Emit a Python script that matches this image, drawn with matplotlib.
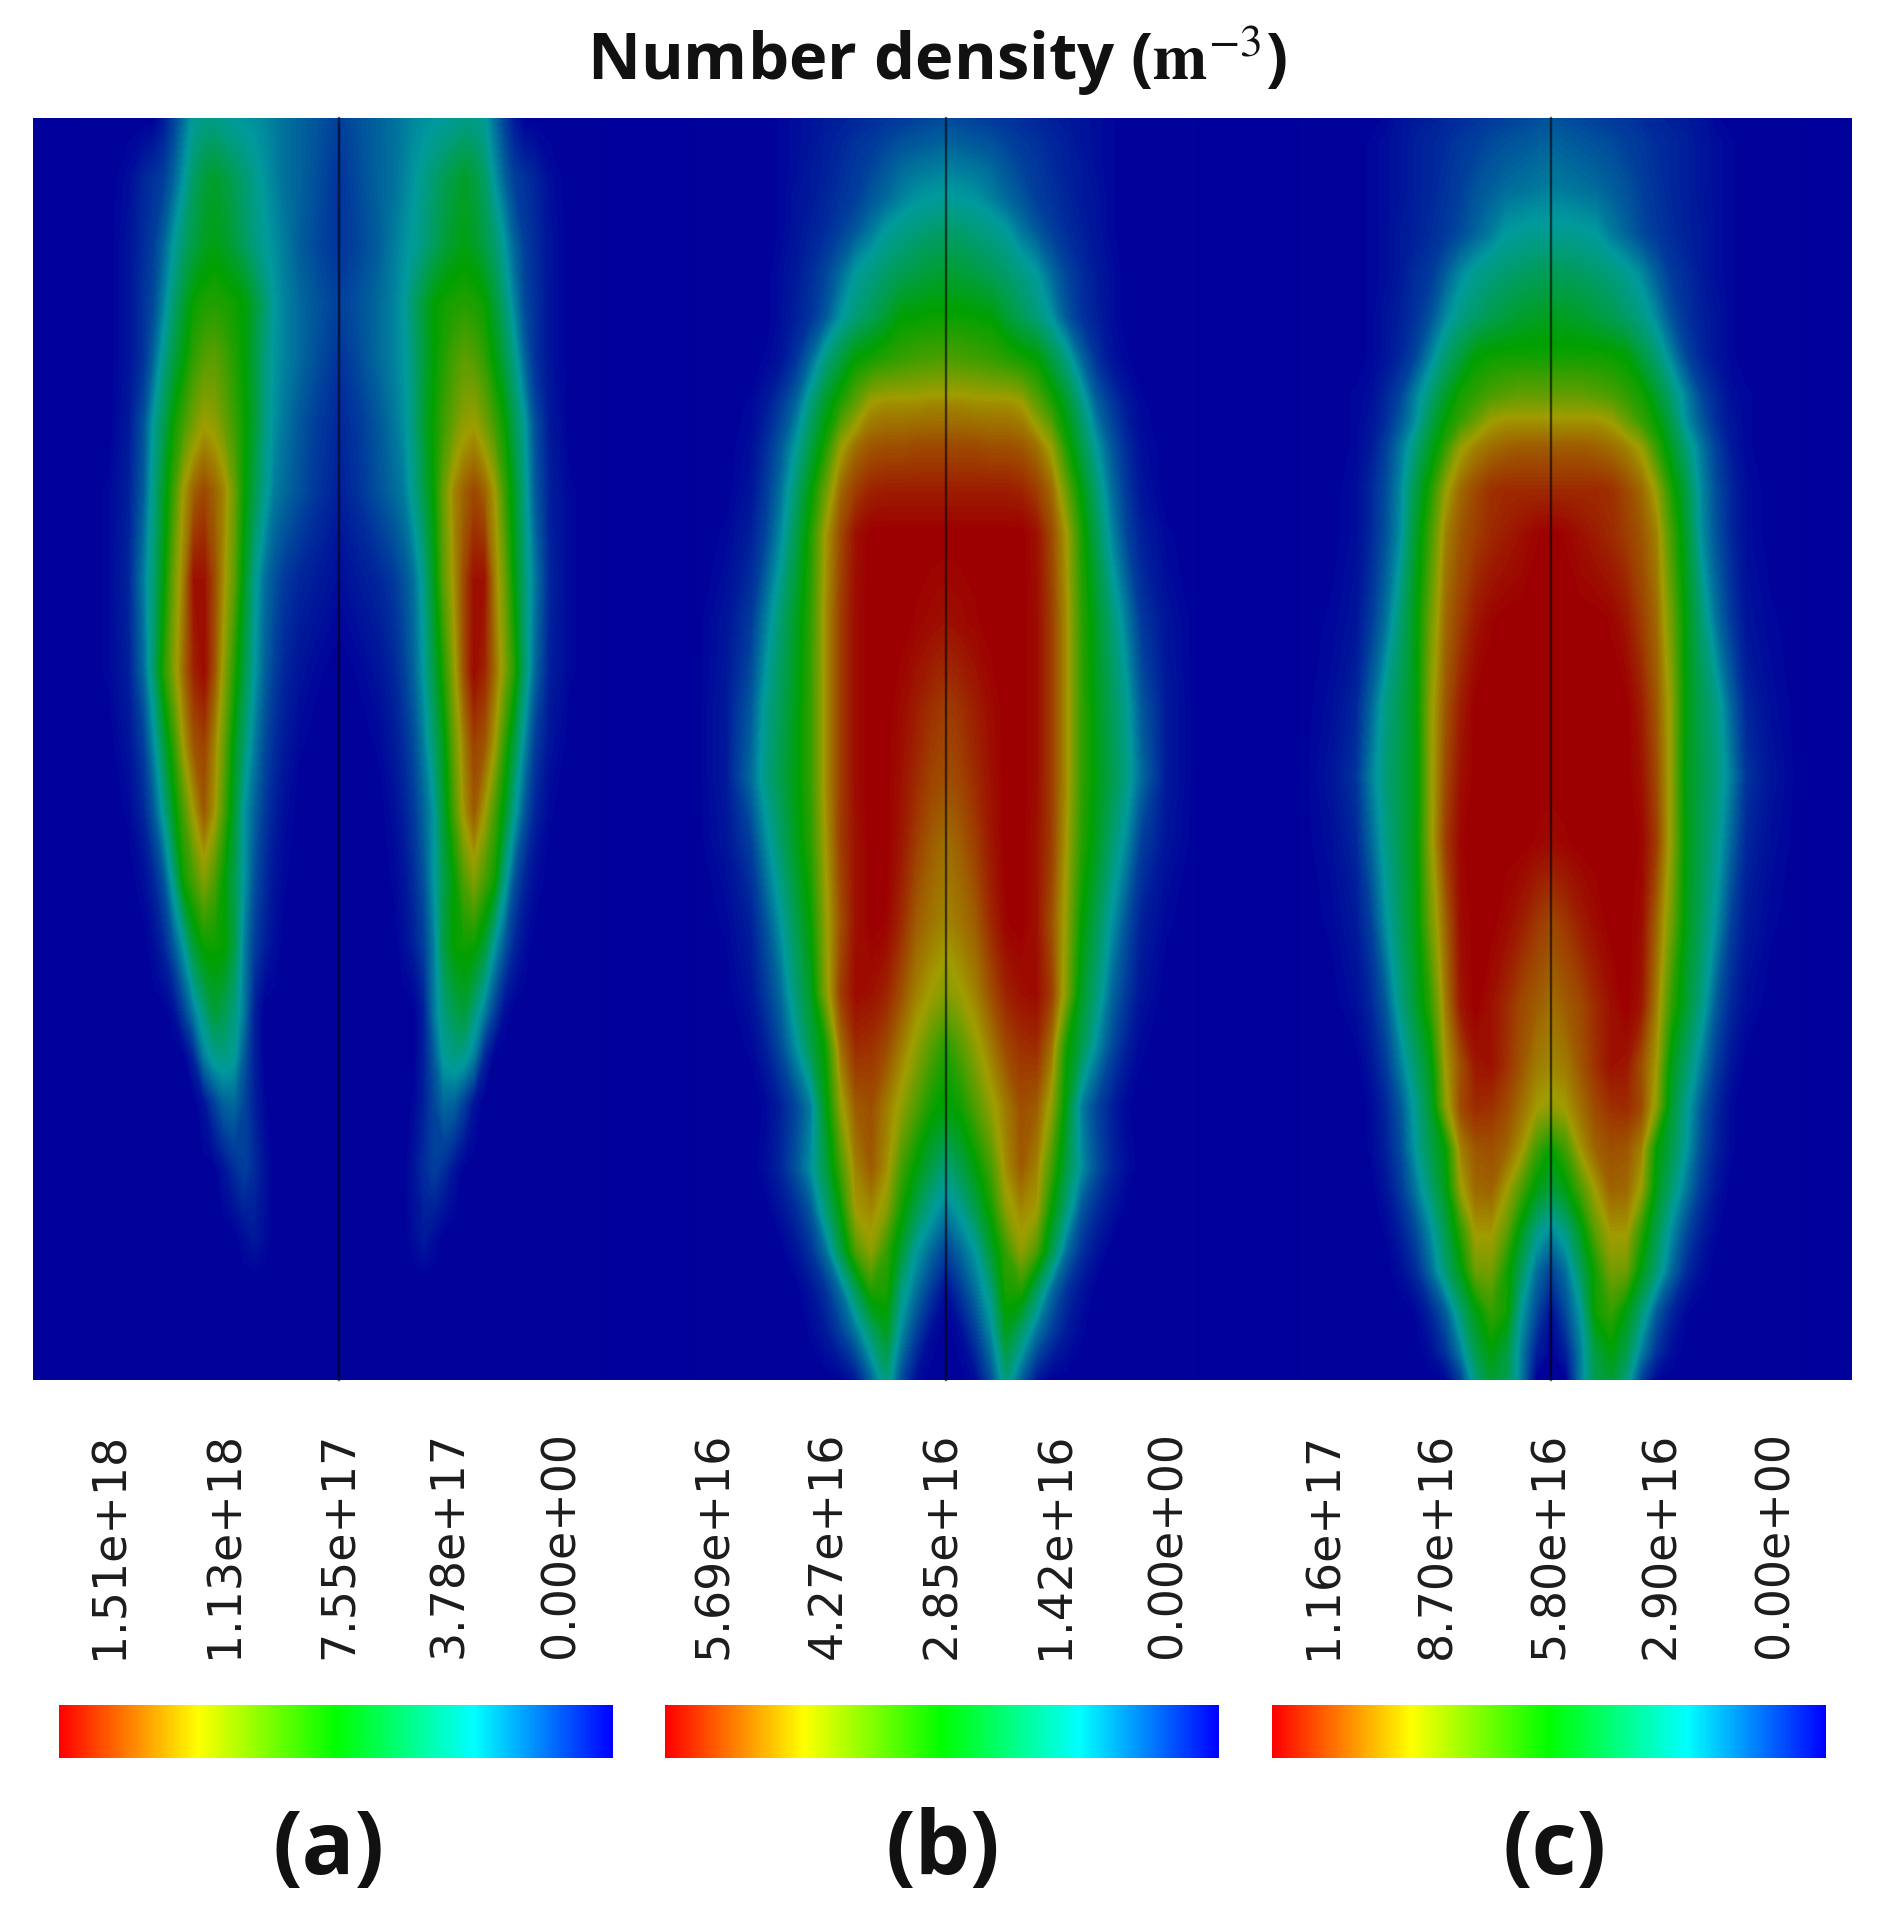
"""
number density maps of the three cases with their colour bars
values are read off the picture (half plume, mirrored about the centre line)
"""

import numpy as np
import matplotlib
matplotlib.use('Agg')
import matplotlib.pyplot as plt
from matplotlib.cm import ScalarMappable
from matplotlib.colors import LinearSegmentedColormap, Normalize

# offset from the centre line, one list per panel
offsets_a = [0, 20, 40, 55, 65, 75, 85, 95, 105, 115, 125, 135, 145, 155, 165, 175, 185, 195, 210, 230, 260]
offsets_bc = [0, 15, 30, 45, 60, 75, 90, 105, 120, 135, 150, 165, 180, 195, 220, 250]

heights_a = [118, 179, 245, 304, 357, 424, 491, 580, 670, 745, 812, 879, 945, 1012, 1057, 1102, 1169, 1236, 1280, 1380]
density_a = [
    [.10, .13, .16, .18, .20, .22, .23, .24, .25, .26, .28, .28, .26, .18, .10, .04, 0, 0, 0, 0, 0],
    [.08, .12, .16, .18, .21, .24, .28, .32, .36, .40, .43, .40, .34, .24, .16, .10, .08, .06, .02, 0, 0],
    [.08, .11, .15, .20, .23, .26, .30, .35, .40, .44, .47, .44, .39, .33, .25, .16, .10, .07, .03, 0, 0],
    [.10, .13, .17, .21, .25, .33, .41, .49, .52, .54, .55, .54, .51, .42, .32, .21, .12, .08, .03, 0, 0],
    [.08, .12, .17, .21, .24, .31, .40, .49, .55, .60, .64, .62, .57, .48, .39, .28, .16, .08, .03, 0, 0],
    [.06, .09, .14, .19, .23, .30, .42, .51, .59, .66, .72, .74, .68, .60, .51, .37, .26, .13, .04, 0, 0],
    [.05, .08, .13, .17, .20, .28, .38, .50, .66, .78, .84, .88, .84, .75, .59, .44, .29, .15, .05, .01, 0],
    [.02, .04, .06, .09, .13, .18, .28, .45, .64, .76, .88, .97, .97, .80, .67, .48, .32, .20, .06, .01, 0],
    [0, .01, .03, .06, .10, .16, .25, .39, .55, .71, .87, .98, .94, .83, .70, .55, .33, .17, .05, .01, 0],
    [0, 0, .01, .04, .07, .12, .20, .32, .46, .65, .79, .89, .86, .75, .57, .39, .22, .10, .03, 0, 0],
    [0, 0, 0, .02, .05, .09, .16, .24, .42, .60, .76, .85, .75, .61, .46, .27, .14, .06, .01, 0, 0],
    [0, 0, 0, .01, .03, .07, .13, .24, .38, .49, .62, .70, .61, .52, .29, .13, .06, .02, 0, 0, 0],
    [0, 0, 0, 0, .02, .05, .10, .20, .39, .50, .52, .51, .42, .25, .14, .06, .02, 0, 0, 0, 0],
    [0, 0, 0, 0, 0, 0, .05, .19, .30, .37, .41, .30, .20, .10, .02, 0, 0, 0, 0, 0, 0],
    [0, 0, 0, 0, 0, 0, .05, .14, .26, .29, .27, .20, .06, 0, 0, 0, 0, 0, 0, 0, 0],
    [0, 0, 0, 0, 0, .01, .05, .11, .17, .16, .10, .03, 0, 0, 0, 0, 0, 0, 0, 0, 0],
    [0, 0, 0, 0, 0, .03, .07, .10, .07, .03, 0, 0, 0, 0, 0, 0, 0, 0, 0, 0, 0],
    [0, 0, 0, 0, 0, .02, .04, .02, 0, 0, 0, 0, 0, 0, 0, 0, 0, 0, 0, 0, 0],
    [0, 0, 0, 0, 0, 0, 0, 0, 0, 0, 0, 0, 0, 0, 0, 0, 0, 0, 0, 0, 0],
    [0, 0, 0, 0, 0, 0, 0, 0, 0, 0, 0, 0, 0, 0, 0, 0, 0, 0, 0, 0, 0],
]

heights_b = [118, 143, 170, 200, 230, 273, 317, 360, 404, 447, 490, 534, 620, 707, 776, 842, 923, 993, 1046, 1107,
             1168, 1209, 1250, 1290, 1331, 1380]
density_b = [
    [.12, .11, .10, .09, .08, .07, .06, .05, .04, .03, .02, .01, 0, 0, 0, 0],
    [.16, .15, .14, .13, .11, .09, .08, .06, .05, .03, .02, .01, 0, 0, 0, 0],
    [.21, .20, .19, .17, .14, .11, .09, .07, .05, .04, .02, .01, 0, 0, 0, 0],
    [.26, .25, .24, .21, .17, .14, .10, .08, .06, .04, .03, .01, 0, 0, 0, 0],
    [.33, .32, .30, .28, .25, .19, .14, .10, .07, .05, .03, .01, 0, 0, 0, 0],
    [.42, .41, .39, .36, .33, .29, .25, .17, .11, .07, .04, .02, 0, 0, 0, 0],
    [.51, .51, .50, .49, .42, .36, .31, .24, .14, .08, .05, .02, 0, 0, 0, 0],
    [.62, .61, .60, .58, .56, .53, .50, .40, .30, .17, .08, .03, .01, 0, 0, 0],
    [.78, .78, .77, .77, .77, .75, .65, .55, .44, .30, .16, .09, .04, .01, 0, 0],
    [.88, .88, .88, .87, .87, .86, .82, .73, .54, .39, .25, .14, .07, .02, 0, 0],
    [.95, .95, .95, .95, .95, .94, .90, .83, .66, .48, .32, .18, .09, .03, 0, 0],
    [1, 1, 1, 1, 1, 1, .97, .88, .75, .54, .37, .22, .11, .05, .01, 0],
    [.97, .98, .99, 1, 1, 1, .98, .90, .77, .57, .44, .32, .20, .09, .03, 0],
    [.90, .92, .95, .98, 1, 1, .98, .90, .77, .58, .46, .36, .27, .14, .04, 0],
    [.87, .89, .93, .97, 1, 1, .98, .90, .77, .58, .47, .38, .29, .17, .04, 0],
    [.82, .85, .90, .96, 1, 1, .97, .90, .75, .56, .45, .33, .22, .10, .03, 0],
    [.78, .81, .85, .93, .99, 1, .97, .87, .72, .50, .37, .24, .13, .05, .01, 0],
    [.70, .74, .79, .87, .94, .97, .98, .90, .70, .44, .31, .17, .09, .03, 0, 0],
    [.55, .63, .72, .80, .88, .92, .93, .82, .52, .38, .23, .12, .05, .01, 0, 0],
    [.48, .52, .62, .72, .80, .87, .85, .72, .46, .20, .11, .05, .01, 0, 0, 0],
    [.30, .38, .48, .60, .77, .85, .79, .60, .39, .23, .13, .06, .02, 0, 0, 0],
    [.20, .27, .38, .52, .71, .78, .75, .50, .31, .14, .07, .03, 0, 0, 0, 0],
    [.10, .17, .25, .42, .58, .72, .62, .39, .18, .08, .03, 0, 0, 0, 0, 0],
    [.02, .09, .18, .30, .54, .55, .36, .18, .08, .03, 0, 0, 0, 0, 0, 0],
    [0, .02, .10, .22, .45, .33, .19, .10, .04, .01, 0, 0, 0, 0, 0, 0],
    [0, 0, .02, .12, .30, .15, .04, 0, 0, 0, 0, 0, 0, 0, 0, 0],
]

heights_c = [118, 143, 187, 234, 273, 317, 356, 395, 421, 447, 490, 534, 620, 707, 776, 842, 923, 1005, 1066, 1107,
             1148, 1189, 1229, 1270, 1311, 1352, 1380]
density_c = [
    [.13, .12, .11, .10, .09, .08, .07, .06, .05, .04, .03, .01, 0, 0, 0, 0],
    [.16, .15, .14, .13, .12, .10, .09, .07, .06, .05, .03, .02, .01, 0, 0, 0],
    [.20, .19, .18, .17, .15, .13, .10, .08, .06, .05, .03, .02, .01, 0, 0, 0],
    [.27, .27, .26, .25, .20, .16, .12, .09, .07, .05, .04, .02, .01, 0, 0, 0],
    [.36, .35, .34, .32, .30, .27, .22, .15, .09, .07, .04, .02, .01, 0, 0, 0],
    [.45, .44, .43, .40, .37, .33, .29, .22, .13, .08, .05, .03, .01, 0, 0, 0],
    [.52, .52, .52, .52, .51, .49, .40, .32, .21, .11, .06, .03, .01, 0, 0, 0],
    [.65, .65, .65, .63, .61, .57, .53, .43, .32, .21, .11, .06, .02, .01, 0, 0],
    [.76, .76, .76, .76, .74, .66, .58, .50, .38, .23, .14, .07, .03, .01, 0, 0],
    [.85, .85, .85, .84, .82, .79, .73, .58, .44, .31, .19, .10, .04, .01, 0, 0],
    [.93, .93, .93, .93, .92, .88, .83, .73, .54, .39, .22, .12, .06, .02, 0, 0],
    [1, .99, .97, .95, .93, .90, .86, .79, .60, .43, .23, .13, .06, .02, 0, 0],
    [1, 1, 1, 1, .99, .96, .90, .83, .67, .47, .32, .18, .09, .03, .01, 0],
    [1, 1, 1, 1, 1, 1, .95, .86, .72, .47, .37, .29, .16, .06, .02, 0],
    [1, 1, 1, 1, 1, 1, .97, .88, .72, .46, .38, .31, .20, .08, .03, 0],
    [.98, .99, 1, 1, 1, 1, .99, .90, .72, .47, .37, .28, .16, .06, .02, 0],
    [.88, .91, .95, .98, 1, 1, .98, .84, .67, .46, .35, .23, .10, .04, .01, 0],
    [.82, .85, .88, .93, .97, 1, .96, .80, .57, .42, .29, .14, .06, .02, 0, 0],
    [.78, .80, .86, .92, .97, .96, .87, .75, .46, .33, .20, .09, .03, 0, 0, 0],
    [.72, .75, .82, .88, .92, .93, .88, .71, .42, .27, .14, .06, .01, 0, 0, 0],
    [.50, .60, .76, .84, .87, .86, .79, .50, .38, .25, .12, .05, .01, 0, 0, 0],
    [.40, .47, .61, .75, .84, .83, .73, .46, .32, .19, .09, .03, 0, 0, 0, 0],
    [.22, .30, .46, .65, .76, .76, .57, .38, .23, .12, .05, .01, 0, 0, 0, 0],
    [.10, .18, .35, .53, .68, .67, .47, .32, .17, .07, .02, 0, 0, 0, 0, 0],
    [.02, .12, .25, .52, .58, .47, .32, .15, .06, .01, 0, 0, 0, 0, 0, 0],
    [0, .05, .20, .40, .48, .38, .20, .08, .02, 0, 0, 0, 0, 0, 0, 0],
    [0, 0, .20, .38, .42, .30, .10, .01, 0, 0, 0, 0, 0, 0, 0, 0],
]

tick_labels_a = ['1.51e+18', '1.13e+18', '7.55e+17', '3.78e+17', '0.00e+00']
tick_labels_b = ['5.69e+16', '4.27e+16', '2.85e+16', '1.42e+16', '0.00e+00']
tick_labels_c = ['1.16e+17', '8.70e+16', '5.80e+16', '2.90e+16', '0.00e+00']
panel_names = ['(a)', '(b)', '(c)']
bar_maxima = [1.51e18, 5.69e16, 1.16e17]


def mirror(offsets, rows):
    """ full x positions and field from a half plume """
    rows = np.array(rows)
    x = np.concatenate((-np.array(offsets[:0:-1]), np.array(offsets)))
    z = np.hstack((rows[:, :0:-1], rows))
    return x, z


if __name__ == "__main__":
    W, H = 1880, 1911
    fig = plt.figure(figsize=(W / 100, H / 100), dpi=100)
    # the whole figure in pixel units, y downwards
    ax = fig.add_axes([0, 0, 1, 1])
    ax.set_xlim(0, W)
    ax.set_ylim(H, 0)
    ax.axis('off')

    # dim map colours of the field, pure ones for the colour bars
    dim = LinearSegmentedColormap.from_list('dim', ['#00009a', '#009a9c', '#00a000', '#a09c00', '#9c0000'])
    bright = LinearSegmentedColormap.from_list('bright', ['#0000ff', '#00ffff', '#00ff00', '#ffff00', '#ff0000'])

    top, bottom = 118, 1380
    ax.fill_between([33, 1852], top, bottom, color='#00009a', lw=0)

    centres = [339, 946, 1551]
    fields = [(offsets_a, heights_a, density_a),
              (offsets_bc, heights_b, density_b),
              (offsets_bc, heights_c, density_c)]
    levels = np.linspace(0, 1, 129)
    for centre, (offsets, heights, rows) in zip(centres, fields):
        x, z = mirror(offsets, rows)
        ax.contourf(centre + x, heights, z, levels=levels, cmap=dim, antialiased=False)
        ax.plot([centre, centre], [top, bottom], color='black', alpha=0.6, lw=1.7)

    # colour bars and their labels
    bar_edges = [(59, 613), (665, 1219), (1272, 1826)]
    label_xs = [[110, 225, 339, 450, 561],
                [714, 829, 943, 1056, 1168],
                [1324, 1438, 1550, 1662, 1775]]
    name_xs = [329, 943, 1555]
    all_labels = [tick_labels_a, tick_labels_b, tick_labels_c]
    for i in range(3):
        x0, x1 = bar_edges[i]
        cax = fig.add_axes([x0 / W, 1 - 1758 / H, (x1 - x0) / W, 53 / H])
        cb = fig.colorbar(ScalarMappable(Normalize(0, bar_maxima[i]), bright),
                          cax=cax, orientation='horizontal')
        cb.outline.set_visible(False)
        cb.set_ticks([])
        cax.invert_xaxis()
        for lx, lab in zip(label_xs[i], all_labels[i]):
            ax.text(lx, 1545, lab, rotation=90, ha='center', va='center',
                    fontsize=33, color='#1c1c1c', family='DejaVu Sans')
        ax.text(name_xs[i], 1851, panel_names[i], ha='center', va='center',
                fontsize=63, fontweight='bold', color='#111111', family='Open Sans')

    plt.rcParams['mathtext.fontset'] = 'stix'
    ax.text(937, 80, r'Number density ($\mathbf{m}^{-3}$)', ha='center', va='baseline',
            fontsize=47, fontweight='bold', color='#111111', family='Open Sans')

    fig.savefig('out.png', dpi=100)
